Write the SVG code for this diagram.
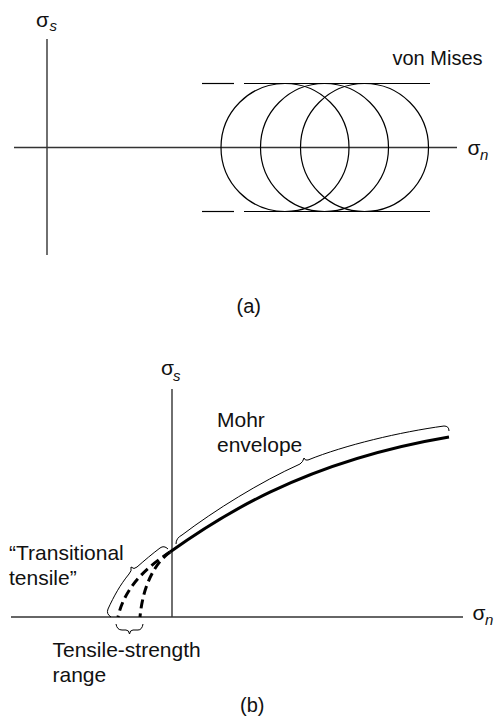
<svg xmlns="http://www.w3.org/2000/svg" width="498" height="724" viewBox="0 0 498 724">
<style>
.ax{stroke:#333;stroke-width:1.4;fill:none}
.ln{stroke:#000;stroke-width:1.2;fill:none}
.br{stroke:#000;stroke-width:1;fill:none}
.t{font-family:"Liberation Sans",Arial,sans-serif;font-size:20px;fill:#111}
.tb{font-family:"Liberation Sans",Arial,sans-serif;font-size:21px;fill:#111}
.sg{font-family:"Liberation Sans",Arial,sans-serif;font-size:21px;fill:#111}
.sub{font-family:"Liberation Sans",Arial,sans-serif;font-size:15px;font-style:italic;fill:#111}
</style>
<rect width="498" height="724" fill="#fff"/>
<g id="panel-a">
  <g id="axes-a">
    <line class="ax" x1="47" y1="39" x2="47" y2="255"/>
    <line class="ax" x1="14" y1="147.5" x2="457" y2="147.5"/>
    <text class="sg" x="36" y="27">σ</text><text class="sub" x="49.5" y="31">s</text>
    <text class="sg" x="467.5" y="155">σ</text><text class="sub" x="480" y="160">n</text>
  </g>
  <g id="circles">
    <circle class="ln" cx="285" cy="147.5" r="64"/>
    <circle class="ln" cx="324.5" cy="147.5" r="64"/>
    <circle class="ln" cx="364.5" cy="147.5" r="64"/>
  </g>
  <g id="von-mises">
    <line class="ln" x1="202" y1="83.5" x2="234" y2="83.5"/>
    <line class="ln" x1="244" y1="83.5" x2="430" y2="83.5"/>
    <line class="ln" x1="202" y1="211.5" x2="234" y2="211.5"/>
    <line class="ln" x1="244" y1="211.5" x2="430" y2="211.5"/>
    <text class="t" x="392.5" y="64.5">von Mises</text>
  </g>
  <text class="t" x="236.5" y="313">(a)</text>
</g>
<g id="panel-b">
  <g id="axes-b">
    <line class="ax" x1="172" y1="389" x2="172" y2="617"/>
    <line class="ax" x1="11" y1="617" x2="463" y2="617"/>
    <text class="sg" x="161" y="375">σ</text><text class="sub" x="173" y="380.5">s</text>
    <text class="sg" x="472.5" y="620">σ</text><text class="sub" x="485" y="625">n</text>
  </g>
  <g id="connectors">
    <path id="mohr-curve" d="M170,552 C215,520 300,462 449,437" stroke="#000" stroke-width="3" fill="none"/>
    <path id="dash-outer" d="M170,552 C150,565 125,585 118,617" stroke="#000" stroke-width="3" fill="none" stroke-dasharray="9,5"/>
    <path id="dash-inner" d="M170,552 C155,563 143,585 140,617" stroke="#000" stroke-width="3" fill="none" stroke-dasharray="9,5"/>
  </g>
  <g id="brace-mohr">
    <path class="br" d="M176,544 Q176,538 182,535 C215,510 260,482 300,464 Q303,462 304,458 Q305,461 308,460 C345,445 400,432 444,426 Q449,426 449,431"/>
    <text class="tb" x="217" y="427">Mohr</text>
    <text class="tb" x="217" y="452">envelope</text>
  </g>
  <g id="brace-transitional">
    <path class="br" d="M111,617 Q106,614 108,609 C114,596 120,585 129,574 Q132,571 131,567 Q134,570 137,567 C145,560 152,554 160,548 Q164,545 168,549"/>
    <text class="tb" x="9" y="560">“Transitional</text>
    <text class="tb" x="9" y="585">tensile”</text>
  </g>
  <g id="brace-range">
    <path class="br" d="M116,624 Q117,630 122,630 L126,630 Q129,630 129.5,634 Q130,630 133,630 L138,630 Q142,630 143,624"/>
    <text class="tb" x="52.5" y="657">Tensile-strength</text>
    <text class="tb" x="52.5" y="682">range</text>
  </g>
  <text class="t" x="240" y="712">(b)</text>
</g>
</svg>
